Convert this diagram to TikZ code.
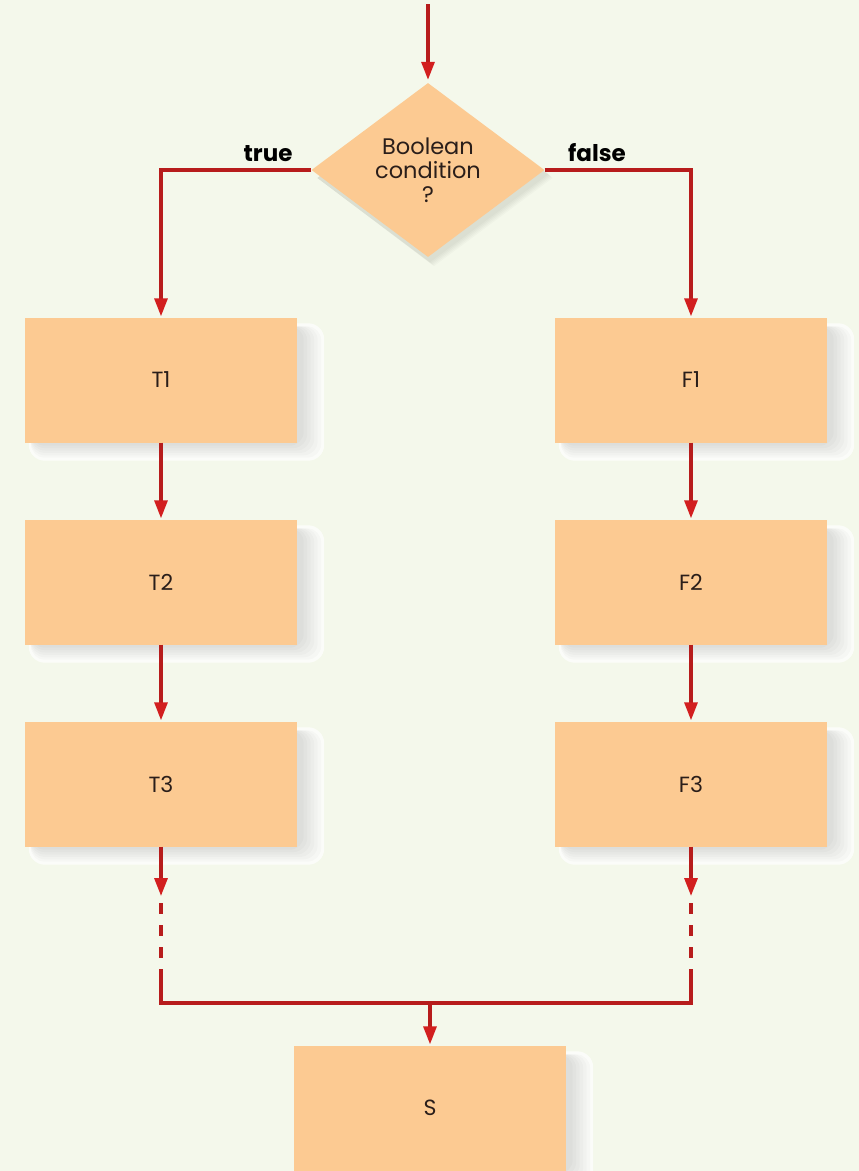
\documentclass[tikz,border=0pt]{standalone}
\usepackage{fontspec}
\setmainfont{Poppins}
\usetikzlibrary{arrows.meta,shapes.geometric,calc}
\definecolor{bgc}{HTML}{F4F8EB}
\definecolor{boxc}{HTML}{FCCA92}
\definecolor{linec}{HTML}{B71C1C}
\definecolor{tipc}{HTML}{D21F1F}
\definecolor{txtc}{HTML}{2A1E1A}
\pgfdeclarelayer{bgl}\pgfdeclarelayer{shade}
\pgfsetlayers{bgl,shade,main}
\tikzset{
 proc/.style={rectangle, fill=boxc, minimum width=272pt, minimum height=125pt, inner sep=0pt, font=\fontsize{22}{26}\selectfont, text=txtc},
 decision/.style={diamond, fill=boxc, minimum width=233pt, minimum height=174pt, inner sep=0pt, align=center, font=\fontsize{22.5}{24}\selectfont, text=txtc},
 flow/.style={draw=linec, line width=3.2pt},
 arr/.style={flow, -{Triangle[length=18pt,width=13pt,fill=tipc,color=tipc]}, shorten >=1pt},
 brk/.style={flow, dash pattern=on 11pt off 11pt},
 lbl/.style={font=\bfseries\fontsize{23}{26}\selectfont, anchor=base, text=black},
 shadelayer/.style={fill=black, opacity=0.018, rounded corners=14pt},
 rim/.style={fill=white, opacity=0.7, rounded corners=16pt},
}
\newcommand\boxshade[1]{%
 \begin{pgfonlayer}{shade}
  \fill[rim] ($(#1.north west)+(4,6)$) rectangle ($(#1.south east)+(27,18)$);
  \foreach \i in {0,...,5}{
   \fill[shadelayer] ($(#1.north west)+(6,9)$) rectangle ($(#1.south east)+(24-3.5*\i,15-2.4*\i)$);
  }
 \end{pgfonlayer}}
\begin{document}
\begin{tikzpicture}[x=1pt,y=-1pt]
\begin{pgfonlayer}{bgl}
 \fill[bgc] (0,0) rectangle (859,1171);
\end{pgfonlayer}
\useasboundingbox (0,0) rectangle (859,1171);

\node[decision] (D) at (428,170) {Boolean\\condition\\?};
\node[proc] (T1) at (161,380) {T1};
\node[proc] (T2) at (161,582) {T2};
\node[proc] (T3) at (161,784) {T3};
\node[proc] (F1) at (691,380) {F1};
\node[proc] (F2) at (691,582) {F2};
\node[proc] (F3) at (691,784) {F3};
\node[proc] (S) at (430,1108) {S};

\node[lbl] (lt) at (268,161) {true};
\node[lbl] (lf) at (597,161) {false};

\boxshade{T1}\boxshade{T2}\boxshade{T3}
\boxshade{F1}\boxshade{F2}\boxshade{F3}\boxshade{S}
\begin{pgfonlayer}{shade}
 \foreach \i in {0,...,4}{
  \fill[black, opacity=0.02] ($(D.north)+(6-\i,8-\i)$) -- ($(D.east)+(8-\i,8-\i)$) -- ($(D.south)+(6-\i,9-\i)$) -- ($(D.west)+(6,8)$) -- cycle;
 }
\end{pgfonlayer}

\coordinate (top) at (428,4);
\coordinate (tA) at (161,896);
\coordinate (tB) at (161,903);
\coordinate (tC) at (161,958);
\coordinate (tD) at (161,969);
\coordinate (tJ) at (161,1003);
\coordinate (fA) at (691,896);
\coordinate (fB) at (691,903);
\coordinate (fC) at (691,958);
\coordinate (fD) at (691,969);
\coordinate (fJ) at (691,1003);
\coordinate (mJ) at (430,1003);

\draw[arr, shorten >=3pt] (top) -- (D.north);
\draw[arr] (D.west) -| (T1.north);
\draw[arr] (D.east) -| (F1.north);
\draw[arr] (T1.south) -- (T2.north);
\draw[arr] (T2.south) -- (T3.north);
\draw[arr] (F1.south) -- (F2.north);
\draw[arr] (F2.south) -- (F3.north);
\draw[arr, shorten >=0pt] (T3.south) -- (tA);
\draw[arr, shorten >=0pt] (F3.south) -- (fA);
\draw[brk] (tB) -- (tC);
\draw[brk] (fB) -- (fC);
\draw[flow] (tD) -- (tJ) -- (fJ) -- (fD);
\draw[arr] (mJ) -- (S.north);
\end{tikzpicture}
\end{document}
